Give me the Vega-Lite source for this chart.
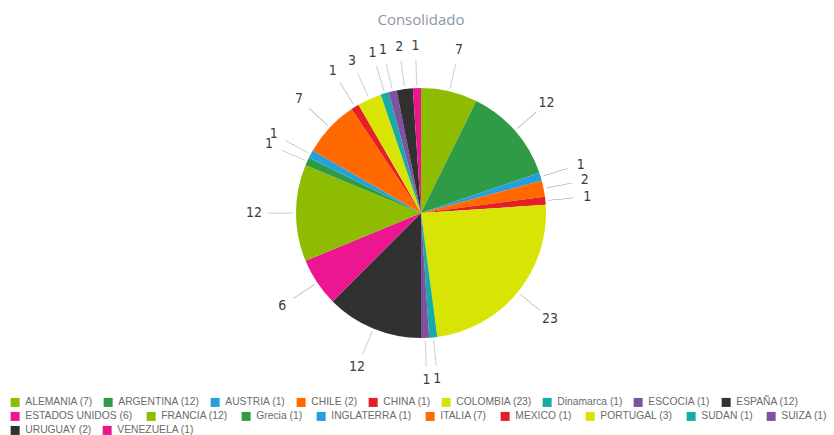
{
  "$schema": "https://vega.github.io/schema/vega-lite/v6.json",
  "width": 826,
  "height": 366,
  "autosize": {"type": "none"},
  "padding": {"left": 8, "top": 30, "right": 0, "bottom": 39},
  "background": "white",
  "title": {"text": "Consolidado", "font": "Open Sans", "fontSize": 15, "fontWeight": "normal", "color": "#8d99a6", "offset": 2, "anchor": "middle"},
  "config": {
    "view": {"stroke": null},
    "legend": {
      "orient": "none", "direction": "horizontal", "title": null,
      "symbolType": "square", "symbolSize": 81, "symbolStrokeWidth": 0,
      "labelFont": "Liberation Sans", "labelFontSize": 10.3, "labelColor": "#6b6b6b",
      "columnPadding": 10, "labelOffset": 5, "labelLimit": 0
    }
  },
  "data": {"values": [
    {"pais": "ALEMANIA", "valor": 7, "leyenda": "ALEMANIA (7)"},
    {"pais": "ARGENTINA", "valor": 12, "leyenda": "ARGENTINA (12)"},
    {"pais": "AUSTRIA", "valor": 1, "leyenda": "AUSTRIA (1)"},
    {"pais": "CHILE", "valor": 2, "leyenda": "CHILE (2)"},
    {"pais": "CHINA", "valor": 1, "leyenda": "CHINA (1)"},
    {"pais": "COLOMBIA", "valor": 23, "leyenda": "COLOMBIA (23)"},
    {"pais": "Dinamarca", "valor": 1, "leyenda": "Dinamarca (1)"},
    {"pais": "ESCOCIA", "valor": 1, "leyenda": "ESCOCIA (1)"},
    {"pais": "ESPAÑA", "valor": 12, "leyenda": "ESPAÑA (12)"},
    {"pais": "ESTADOS UNIDOS", "valor": 6, "leyenda": "ESTADOS UNIDOS (6)"},
    {"pais": "FRANCIA", "valor": 12, "leyenda": "FRANCIA (12)"},
    {"pais": "Grecia", "valor": 1, "leyenda": "Grecia (1)"},
    {"pais": "INGLATERRA", "valor": 1, "leyenda": "INGLATERRA (1)"},
    {"pais": "ITALIA", "valor": 7, "leyenda": "ITALIA (7)"},
    {"pais": "MEXICO", "valor": 1, "leyenda": "MEXICO (1)"},
    {"pais": "PORTUGAL", "valor": 3, "leyenda": "PORTUGAL (3)"},
    {"pais": "SUDAN", "valor": 1, "leyenda": "SUDAN (1)"},
    {"pais": "SUIZA", "valor": 1, "leyenda": "SUIZA (1)"},
    {"pais": "URUGUAY", "valor": 2, "leyenda": "URUGUAY (2)"},
    {"pais": "VENEZUELA", "valor": 1, "leyenda": "VENEZUELA (1)"}
  ]},
  "transform": [
    {"stack": "valor", "groupby": [], "as": ["ini", "fin"], "sort": [{"field": "leyenda", "order": "ascending"}]}
  ],
  "resolve": {"scale": {"color": "independent"}},
  "layer": [
    {
      "transform": [{"filter": {"field": "pais", "oneOf": ["ALEMANIA", "ARGENTINA", "AUSTRIA", "CHILE", "CHINA", "COLOMBIA", "Dinamarca", "ESCOCIA", "ESPAÑA"]}}],
      "mark": {"type": "arc", "outerRadius": 125},
      "encoding": {
        "theta": {"field": "ini", "type": "quantitative", "scale": {"domain": [0, 96]}},
        "theta2": {"field": "fin"},
        "color": {"field": "leyenda", "type": "nominal", "sort": null,
          "scale": {"range": ["#8ebc00","#309b46","#25a0da","#ff6900","#e61e26","#d8e404","#16aba9","#7e51a1","#313131"]},
          "legend": {"legendX": 2, "legendY": 367}}
      }
    },
    {
      "transform": [{"filter": {"field": "pais", "oneOf": ["ESTADOS UNIDOS", "FRANCIA", "Grecia", "INGLATERRA", "ITALIA", "MEXICO", "PORTUGAL", "SUDAN", "SUIZA"]}}],
      "mark": {"type": "arc", "outerRadius": 125},
      "encoding": {
        "theta": {"field": "ini", "type": "quantitative", "scale": {"domain": [0, 96]}},
        "theta2": {"field": "fin"},
        "color": {"field": "leyenda", "type": "nominal", "sort": null,
          "scale": {"range": ["#ed1691","#8ebc00","#309b46","#25a0da","#ff6900","#e61e26","#d8e404","#16aba9","#7e51a1"]},
          "legend": {"legendX": 2, "legendY": 381, "columnPadding": 13}}
      }
    },
    {
      "transform": [{"filter": {"field": "pais", "oneOf": ["URUGUAY", "VENEZUELA"]}}],
      "mark": {"type": "arc", "outerRadius": 125},
      "encoding": {
        "theta": {"field": "ini", "type": "quantitative", "scale": {"domain": [0, 96]}},
        "theta2": {"field": "fin"},
        "color": {"field": "leyenda", "type": "nominal", "sort": null,
          "scale": {"range": ["#313131","#ed1691"]},
          "legend": {"legendX": 2, "legendY": 395}}
      }
    },
    {
      "mark": {"type": "text", "radius": 128, "text": "───────", "font": "DejaVu Sans Mono", "fontSize": 6, "align": "left", "baseline": "middle",
               "angle": {"expr": "scale('theta', (datum.valor_start + datum.valor_end) / 2) * 180 / PI - 90"}},
      "encoding": {
        "theta": {"field": "valor", "type": "quantitative", "stack": true, "scale": {"domain": [0, 96]}},
        "order": {"field": "leyenda", "type": "ordinal"},
        "color": {"value": "#a0a0a0"}
      }
    },
    {
      "mark": {"type": "text", "radius": 167, "font": "Liberation Sans Narrow, DejaVu Sans Condensed", "fontSize": 14, "align": "center", "baseline": "middle"},
      "encoding": {
        "theta": {"field": "valor", "type": "quantitative", "stack": true, "scale": {"domain": [0, 96]}},
        "order": {"field": "leyenda", "type": "ordinal"},
        "text": {"field": "valor", "type": "quantitative"},
        "color": {"value": "#3b3b4b"}
      }
    }
  ]
}
